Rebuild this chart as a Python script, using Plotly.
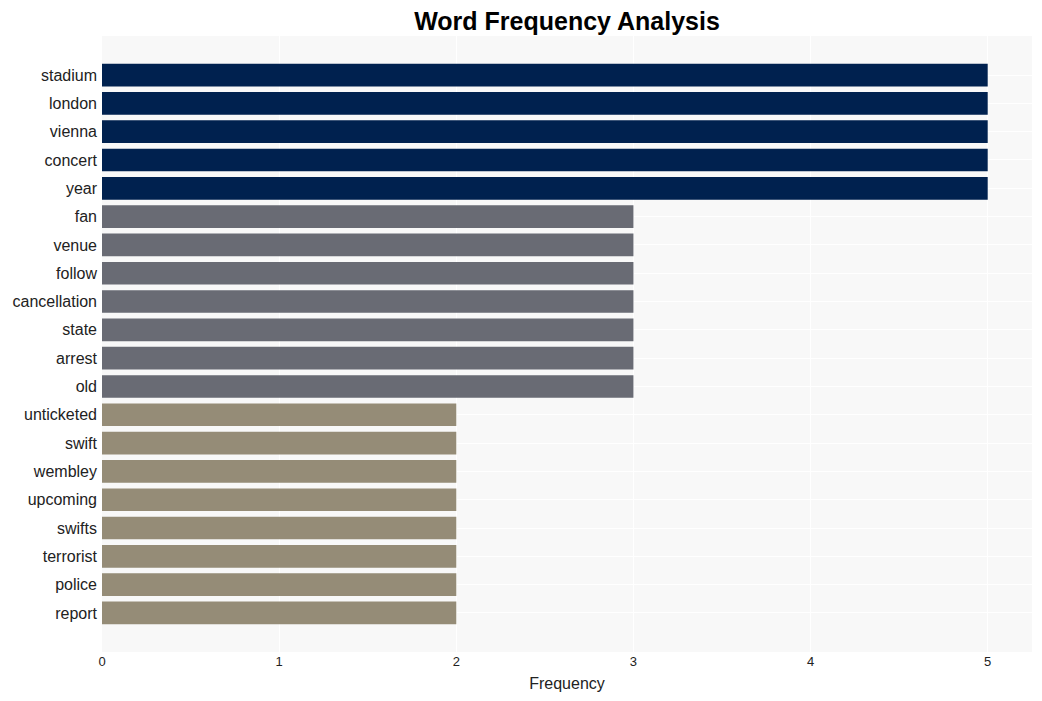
import plotly.graph_objects as go

words = ["stadium", "london", "vienna", "concert", "year", "fan", "venue", "follow",
         "cancellation", "state", "arrest", "old", "unticketed", "swift", "wembley",
         "upcoming", "swifts", "terrorist", "police", "report"]
counts = [5, 5, 5, 5, 5, 3, 3, 3, 3, 3, 3, 3, 2, 2, 2, 2, 2, 2, 2, 2]
color_map = {5: "#00214f", 3: "#696b74", 2: "#958c77"}
colors = [color_map[c] for c in counts]

fig = go.Figure(go.Bar(
    x=counts, y=words, orientation="h", marker=dict(color=colors, line=dict(width=0)),
))
n = len(words)
fig.update_layout(
    width=1042, height=701,
    margin=dict(l=102, r=10, t=36, b=49),
    paper_bgcolor="white", plot_bgcolor="#f8f8f8",
    title=dict(text="<b>Word Frequency Analysis</b>", x=0.5, xref="paper", xanchor="center",
               y=0.982, yanchor="top",
               font=dict(family="Arial, Liberation Sans", size=25, color="black")),
    font=dict(family="Arial, Liberation Sans", color="#222"),
    bargap=0.2,
    showlegend=False,
)
fig.update_xaxes(title=dict(text="Frequency", font=dict(size=16), standoff=9),
                 tickfont=dict(size=13), gridcolor="white", zeroline=False, automargin=False,
                 range=[0, 5.25], dtick=1, ticks="")
fig.update_yaxes(tickfont=dict(size=16), gridcolor="white", range=[n - 1 + 1.38, -1.38],
                 ticks="", ticklabelstandoff=4, automargin=False)
fig.write_html("out.html")
